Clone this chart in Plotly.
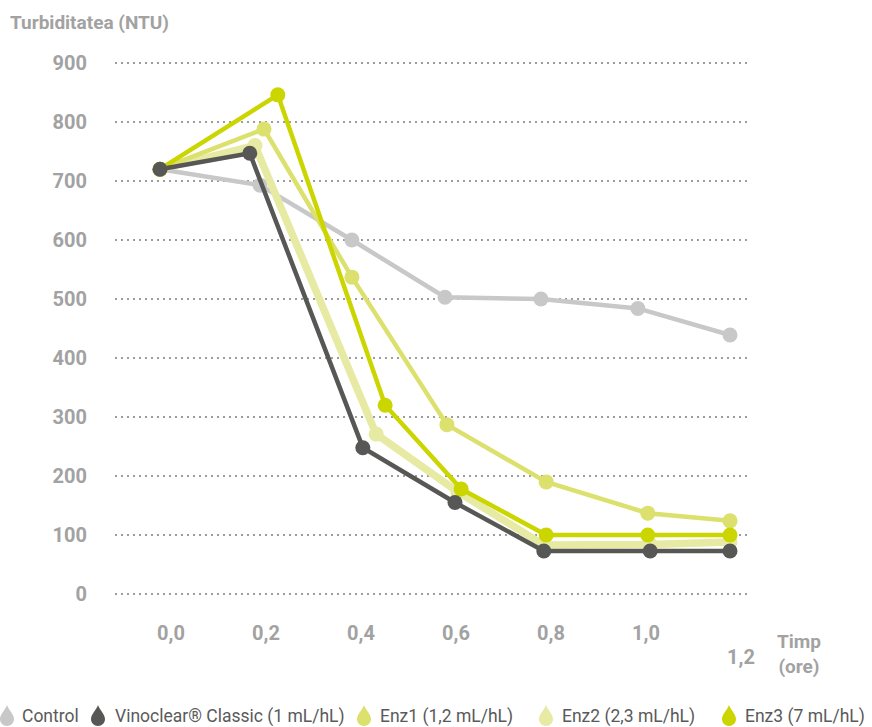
import plotly.graph_objects as go

# Time (hours) and turbidity (NTU) for each treatment
control_t = [0, 0.2105, 0.404, 0.6, 0.802, 1.006, 1.2]
control_v = [720, 693, 600, 503, 500, 484, 439]

vinoclear_t = [0, 0.189, 0.427, 0.621, 0.808, 1.032, 1.2]
vinoclear_v = [720, 747, 248, 155, 73, 73, 73]

enz1_t = [0, 0.219, 0.404, 0.604, 0.813, 1.027, 1.2]
enz1_v = [720, 788, 537, 287, 190, 137, 124]

enz2_t = [0, 0.2, 0.455, 0.627, 0.808, 1.032, 1.2]
enz2_v = [720, 760, 271, 173, 83, 84, 88]

enz3_t = [0, 0.248, 0.474, 0.634, 0.813, 1.027, 1.2]
enz3_v = [720, 846, 320, 178, 100, 100, 100]

x_ticks = [0.0, 0.2, 0.4, 0.6, 0.8, 1.0, 1.2]
x_tick_text = ["0,0", "0,2", "0,4", "0,6", "0,8", "1,0", "1,2"]
y_ticks = [0, 100, 200, 300, 400, 500, 600, 700, 800, 900]

legend_names = ["Control", "Vinoclear® Classic (1 mL/hL)", "Enz1 (1,2 mL/hL)",
                "Enz2 (2,3 mL/hL)", "Enz3 (7 mL/hL)"]

C_CONTROL = "#c8c8c8"
C_VINO = "#575756"
C_ENZ1 = "#dce06c"
C_ENZ2 = "#e7eaa2"
C_ENZ3 = "#cbd500"

FONT = "Roboto, sans-serif"
LABEL_GREY = "#a2a2a2"

W, H = 872, 727
ML, MR, MT, MB = 115, 124, 58, 128
PW, PH = W - ML - MR, H - MT - MB


def px_to_paper_x(px):
    return (px - ML) / PW


def px_to_paper_y(py):
    return (H - MB - py) / PH


fig = go.Figure()

series = [
    (control_t, control_v, C_CONTROL, 4.5),
    (enz2_t, enz2_v, C_ENZ2, 7.5),
    (enz1_t, enz1_v, C_ENZ1, 4.5),
    (enz3_t, enz3_v, C_ENZ3, 4.5),
    (vinoclear_t, vinoclear_v, C_VINO, 4.5),
]
for t, v, col, lw in series:
    fig.add_trace(go.Scatter(
        x=t, y=v, mode="lines+markers",
        line=dict(color=col, width=lw),
        marker=dict(color=col, size=15, line=dict(width=0)),
        showlegend=False, hoverinfo="skip",
    ))

# x range: t=0 sits 45px right of the plot's left edge, 475 px per hour
x_lo = -45 / 475
x_hi = (PW - 45) / 475
# y range: 0 and 900 sit 5 px inside the plot area
pad = 5 / 0.59
fig.update_xaxes(range=[x_lo, x_hi], showgrid=False, zeroline=False,
                 showticklabels=False, showline=False, ticks="")
fig.update_yaxes(range=[-pad, 900 + pad], tickvals=y_ticks,
                 showgrid=True, gridcolor="#9c9c9c", gridwidth=2,
                 griddash="2px,4px", zeroline=False, showline=False, ticks="",
                 ticklabelstandoff=27,
                 tickfont=dict(family=FONT, size=20, color=LABEL_GREY, weight="bold"))

annotations = []
for t, txt in zip(x_ticks, x_tick_text):
    y = px_to_paper_y(633) if txt != "1,2" else px_to_paper_y(657)
    annotations.append(dict(x=t, xref="x", xshift=11, y=y, yref="paper",
                            text=txt, showarrow=False, xanchor="center", yanchor="middle",
                            font=dict(family=FONT, size=20, color=LABEL_GREY, weight="bold")))
annotations.append(dict(x=px_to_paper_x(799), xref="paper", y=px_to_paper_y(654), yref="paper",
                        text="Timp<br>(ore)", showarrow=False, xanchor="center", yanchor="middle",
                        font=dict(family=FONT, size=19, color=LABEL_GREY, weight="bold")))
annotations.append(dict(x=px_to_paper_x(8), xref="paper", y=px_to_paper_y(22), yref="paper",
                        text="Turbiditatea (NTU)", showarrow=False, xanchor="left", yanchor="middle",
                        font=dict(family=FONT, size=19, color=LABEL_GREY, weight="bold")))

# Legend: drop icons followed by names
legend_cols = [C_CONTROL, C_VINO, C_ENZ1, C_ENZ2, C_ENZ3]
drop_x = [7, 98, 364, 546, 729]
text_x = [20, 113, 378, 560, 743]
legend_y = 716
drop_path = ("M 0,13 C 1.5,8 7,4 7,-1 C 7,-4.9 3.9,-8 0,-8 "
             "C -3.9,-8 -7,-4.9 -7,-1 C -7,4 -1.5,8 0,13 Z")
shapes = []
for col, dx, tx, name in zip(legend_cols, drop_x, text_x, legend_names):
    shapes.append(dict(type="path", xref="paper", yref="paper",
                       xsizemode="pixel", ysizemode="pixel",
                       xanchor=px_to_paper_x(dx), yanchor=px_to_paper_y(legend_y + 2),
                       path=drop_path, fillcolor=col, line=dict(width=0)))
    annotations.append(dict(x=px_to_paper_x(tx), xref="paper", y=px_to_paper_y(legend_y),
                            yref="paper", text=name, showarrow=False,
                            xanchor="left", yanchor="middle",
                            font=dict(family=FONT, size=17.5, color="#5a5a5a")))

fig.update_layout(
    width=W, height=H,
    margin=dict(l=ML, r=MR, t=MT, b=MB),
    paper_bgcolor="white", plot_bgcolor="white",
    annotations=annotations, shapes=shapes,
    showlegend=False,
)

fig.write_html("out.html")
